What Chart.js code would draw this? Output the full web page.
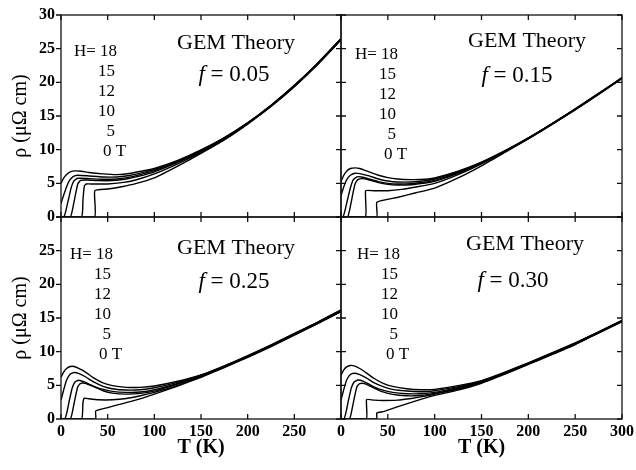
<!DOCTYPE html>
<html><head><meta charset="utf-8">
<script src="https://cdn.jsdelivr.net/npm/chart.js@4.4.1/dist/chart.umd.min.js"></script>
<style>
html,body{margin:0;padding:0;background:#fff;}
body{width:636px;height:470px;position:relative;overflow:hidden;}
canvas{position:absolute;left:0;top:0;}
</style>
</head><body>
<canvas id="c0" width="636" height="470"></canvas>
<canvas id="c1" width="636" height="470"></canvas>
<canvas id="c2" width="636" height="470"></canvas>
<canvas id="c3" width="636" height="470"></canvas>
<script>
// ---- tick labels / categories ----
const xTicks = [0, 50, 100, 150, 200, 250, 300];
const yTicks = [0, 5, 10, 15, 20, 25, 30];
const fieldLabels = ['H= 18', '15', '12', '10', '5', '0 T'];
const fValues = ['0.05', '0.15', '0.25', '0.30'];

// ---- series: [T (K), rho (µΩ cm)] ----
// f = 0.05
const f05_H18 = [[0,5.0],[3,5.8],[6,6.3],[10,6.7],[15,6.85],[22,6.8],[30,6.6],[45,6.4],[60,6.3],[75,6.5],[90,6.9],[100,7.2],[125,8.4],[150,9.95],[175,11.8],[200,14.0],[225,16.6],[250,19.55],[275,22.85],[300,26.5]];
const f05_H15 = [[0,2.0],[3,3.3],[6,4.5],[9,5.4],[13,6.0],[18,6.2],[30,6.1],[45,5.95],[60,5.95],[75,6.2],[90,6.7],[100,7.05],[125,8.3],[150,9.9],[175,11.75],[200,13.97],[225,16.57],[250,19.52],[275,22.82],[300,26.47]];
const f05_H12 = [[0,0],[3,0],[5,0.8],[8,2.6],[11,4.4],[14,5.4],[18,5.75],[30,5.7],[45,5.6],[60,5.65],[75,5.95],[90,6.5],[100,6.9],[125,8.2],[150,9.8],[175,11.7],[200,13.95],[225,16.55],[250,19.5],[275,22.8],[300,26.45]];
const f05_H10 = [[0,0],[10,0],[12,0.9],[15,3.0],[18,4.9],[21,5.45],[28,5.5],[40,5.4],[55,5.4],[70,5.65],[85,6.1],[100,6.7],[125,8.1],[150,9.75],[175,11.65],[200,13.9],[225,16.5],[250,19.45],[275,22.75],[300,26.4]];
const f05_H5  = [[0,0],[22,0],[23.5,2.5],[25,4.6],[27,4.9],[35,4.9],[50,4.9],[65,5.1],[80,5.5],[100,6.4],[125,7.9],[150,9.6],[175,11.55],[200,13.85],[225,16.45],[250,19.4],[275,22.7],[300,26.35]];
const f05_H0  = [[0,0],[36,0],[36.2,3.9],[50,4.15],[65,4.5],[80,4.95],[100,5.8],[125,7.55],[150,9.45],[175,11.45],[200,13.8],[225,16.4],[250,19.35],[275,22.65],[300,26.3]];
// f = 0.15
const f15_H18 = [[0,5.3],[3,6.2],[6,6.8],[10,7.2],[15,7.3],[20,7.2],[30,6.7],[40,6.2],[50,5.85],[60,5.65],[75,5.55],[90,5.6],[100,5.8],[125,6.8],[150,8.15],[175,9.85],[200,11.75],[225,13.85],[250,16.05],[275,18.35],[300,20.7]];
const f15_H15 = [[0,3.2],[3,4.5],[6,5.5],[10,6.2],[15,6.5],[20,6.45],[30,6.1],[40,5.65],[50,5.35],[60,5.2],[75,5.2],[90,5.4],[100,5.65],[125,6.7],[150,8.1],[175,9.8],[200,11.72],[225,13.82],[250,16.02],[275,18.32],[300,20.67]];
const f15_H12 = [[0,0],[2,0],[4,0.8],[7,2.6],[10,4.3],[13,5.5],[17,5.95],[22,5.95],[30,5.65],[40,5.25],[50,5.0],[60,4.9],[75,4.95],[90,5.2],[100,5.45],[125,6.6],[150,8.05],[175,9.77],[200,11.7],[225,13.8],[250,16.0],[275,18.3],[300,20.65]];
const f15_H10 = [[0,0],[7,0],[9,0.9],[12,3.0],[15,4.9],[18,5.55],[23,5.7],[30,5.5],[40,5.1],[50,4.85],[60,4.75],[75,4.8],[90,5.05],[100,5.3],[125,6.5],[150,8.0],[175,9.74],[200,11.68],[225,13.78],[250,15.98],[275,18.28],[300,20.63]];
const f15_H5  = [[0,0],[26,0],[26.3,3.9],[35,3.9],[50,3.9],[65,4.1],[80,4.45],[100,5.0],[125,6.3],[150,7.9],[175,9.7],[200,11.65],[225,13.75],[250,15.95],[275,18.25],[300,20.6]];
const f15_H0  = [[0,0],[38,0],[38.3,2.2],[60,2.9],[80,3.6],[100,4.3],[125,5.8],[150,7.6],[175,9.6],[200,11.6],[225,13.72],[250,15.92],[275,18.22],[300,20.57]];
// f = 0.25
const f25_H18 = [[0,6.2],[3,7.0],[6,7.5],[10,7.8],[14,7.8],[20,7.45],[27,6.9],[35,6.1],[45,5.35],[55,4.95],[70,4.7],[85,4.7],[100,4.9],[125,5.6],[150,6.55],[175,7.9],[200,9.4],[225,11.0],[250,12.7],[275,14.4],[300,16.2]];
const f25_H15 = [[0,2.8],[3,4.4],[6,5.8],[10,6.7],[14,6.9],[20,6.7],[27,6.2],[35,5.5],[45,4.85],[55,4.5],[70,4.3],[85,4.35],[100,4.65],[125,5.45],[150,6.5],[175,7.85],[200,9.35],[225,10.95],[250,12.65],[275,14.35],[300,16.15]];
const f25_H12 = [[0,0],[4,0],[6,0.8],[9,2.8],[12,4.6],[15,5.5],[19,5.75],[25,5.5],[33,5.0],[42,4.5],[55,4.1],[70,3.95],[85,4.0],[100,4.35],[125,5.3],[150,6.4],[175,7.8],[200,9.3],[225,10.9],[250,12.6],[275,14.3],[300,16.1]];
const f25_H10 = [[0,0],[10,0],[12,0.9],[15,3.0],[18,4.8],[21,5.3],[26,5.3],[35,4.8],[45,4.2],[55,3.85],[70,3.7],[85,3.8],[100,4.15],[125,5.2],[150,6.35],[175,7.75],[200,9.25],[225,10.85],[250,12.55],[275,14.25],[300,16.05]];
const f25_H5  = [[0,0],[22,0],[23.5,2.4],[25,3.1],[30,3.0],[40,2.85],[55,2.85],[70,3.05],[85,3.45],[100,3.95],[125,5.0],[150,6.25],[175,7.7],[200,9.2],[225,10.8],[250,12.5],[275,14.2],[300,16.0]];
const f25_H0  = [[0,0],[37,0],[37.2,1.2],[50,1.7],[65,2.25],[80,2.8],[100,3.7],[125,4.9],[150,6.2],[175,7.65],[200,9.15],[225,10.75],[250,12.45],[275,14.15],[300,15.95]];
// f = 0.30
const f30_H18 = [[0,6.5],[3,7.3],[6,7.75],[10,7.95],[14,7.9],[20,7.5],[27,6.85],[35,6.05],[45,5.3],[55,4.85],[70,4.5],[85,4.35],[100,4.4],[125,4.95],[150,5.7],[175,6.95],[200,8.35],[225,9.8],[250,11.3],[275,12.95],[300,14.65]];
const f30_H15 = [[0,2.8],[3,4.4],[6,5.8],[10,6.6],[14,6.8],[20,6.6],[27,6.1],[35,5.4],[45,4.8],[55,4.4],[70,4.15],[85,4.05],[100,4.2],[125,4.8],[150,5.6],[175,6.9],[200,8.3],[225,9.75],[250,11.25],[275,12.92],[300,14.62]];
const f30_H12 = [[0,0],[3,0],[5,0.8],[8,2.8],[11,4.6],[14,5.5],[18,5.8],[24,5.6],[32,5.0],[42,4.4],[55,3.95],[70,3.75],[85,3.75],[100,3.95],[125,4.65],[150,5.5],[175,6.85],[200,8.25],[225,9.7],[250,11.2],[275,12.9],[300,14.6]];
const f30_H10 = [[0,0],[9,0],[11,0.9],[14,3.0],[17,4.8],[20,5.25],[25,5.25],[33,4.75],[43,4.1],[55,3.65],[70,3.45],[85,3.5],[100,3.8],[125,4.55],[150,5.45],[175,6.8],[200,8.2],[225,9.65],[250,11.15],[275,12.85],[300,14.55]];
const f30_H5  = [[0,0],[27,0],[27.3,2.9],[35,2.8],[45,2.75],[60,2.8],[75,3.05],[90,3.4],[100,3.7],[125,4.45],[150,5.4],[175,6.75],[200,8.15],[225,9.6],[250,11.1],[275,12.8],[300,14.5]];
const f30_H0  = [[0,0],[38,0],[38.2,0.9],[45,1.1],[60,1.8],[80,2.7],[100,3.5],[125,4.3],[150,5.3],[175,6.65],[200,8.1],[225,9.55],[250,11.05],[275,12.75],[300,14.45]];

// ---- panel layout (positions only) ----
const panels = [
  {id:'c0', col:0, row:0, f:fValues[0], series:[f05_H18,f05_H15,f05_H12,f05_H10,f05_H5,f05_H0], hx:117, hy:52, gx:236, gy:43, fx:234, fy:75},
  {id:'c1', col:1, row:0, f:fValues[1], series:[f15_H18,f15_H15,f15_H12,f15_H10,f15_H5,f15_H0], hx:398, hy:55, gx:527, gy:41, fx:517, fy:76},
  {id:'c2', col:0, row:1, f:fValues[2], series:[f25_H18,f25_H15,f25_H12,f25_H10,f25_H5,f25_H0], hx:113, hy:255, gx:236, gy:248, fx:234, fy:282},
  {id:'c3', col:1, row:1, f:fValues[3], series:[f30_H18,f30_H15,f30_H12,f30_H10,f30_H5,f30_H0], hx:400, hy:255, gx:525, gy:244, fx:513, fy:281}
];

const SERIF = '"Liberation Serif", "Times New Roman", serif';

function makeChart(p){
  const L = p.col ? 341 : 61, R = p.col ? 622 : 341;
  const T = p.row ? 217 : 15, B = p.row ? 419 : 217;
  const TL = 5;
  const showX = p.row === 1, showY = p.col === 0;
  const frame = {
    id:'frame'+p.id,
    afterDraw(chart){
      const {ctx, chartArea:a, scales:{x, y}} = chart;
      ctx.save();
      ctx.strokeStyle = '#111';
      ctx.lineWidth = 1.3;
      ctx.strokeRect(a.left, a.top, a.right - a.left, a.bottom - a.top);
      ctx.beginPath();
      xTicks.forEach(v => {
        const px = x.getPixelForValue(v);
        ctx.moveTo(px, a.bottom); ctx.lineTo(px, a.bottom - TL);
        ctx.moveTo(px, a.top); ctx.lineTo(px, a.top + TL);
      });
      yTicks.forEach(v => {
        const py = y.getPixelForValue(v);
        ctx.moveTo(a.right, py); ctx.lineTo(a.right - TL, py);
        if (p.col === 0) { ctx.moveTo(a.left, py); ctx.lineTo(a.left - TL, py); }
        else { ctx.moveTo(a.left, py); ctx.lineTo(a.left + TL, py); }
      });
      ctx.stroke();
      // annotations
      ctx.fillStyle = '#000';
      ctx.textBaseline = 'middle';
      ctx.font = '22px ' + SERIF;
      ctx.textAlign = 'center';
      ctx.fillText('GEM Theory', p.gx, p.gy);
      // f = value
      ctx.textAlign = 'left';
      ctx.font = 'italic 23px ' + SERIF;
      const w1 = ctx.measureText('f').width;
      ctx.font = '23px ' + SERIF;
      const rest = ' = ' + p.f;
      const w2 = ctx.measureText(rest).width;
      const sx = p.fx - (w1 + w2) / 2;
      ctx.font = 'italic 23px ' + SERIF;
      ctx.fillText('f', sx, p.fy);
      ctx.font = '23px ' + SERIF;
      ctx.fillText(rest, sx + w1, p.fy);
      // field labels
      ctx.font = '17px ' + SERIF;
      fieldLabels.forEach((t, i) => {
        const yy = p.hy + i * 20;
        if (i === 0) { ctx.textAlign = 'right'; ctx.fillText(t, p.hx, yy); }
        else if (i === fieldLabels.length - 1) { ctx.textAlign = 'left'; ctx.fillText(t, p.hx - 14, yy); }
        else { ctx.textAlign = 'right'; ctx.fillText(t, p.hx - 2, yy); }
      });
      ctx.restore();
    }
  };
  return new Chart(document.getElementById(p.id), {
    type:'line',
    data:{datasets: p.series.map(s => ({
      data: s.map(([tx, ry]) => ({x: tx, y: ry})),
      borderColor:'#000', borderWidth:1.4, pointRadius:0, tension:0.15, fill:false
    }))},
    options:{
      responsive:false, animation:false, devicePixelRatio:1, events:[],
      layout:{autoPadding:false, padding:{left: showY ? 0 : L, right: 636 - R, top: T, bottom: showX ? 0 : 470 - B}},
      plugins:{legend:{display:false}, tooltip:{enabled:false}, title:{display:false}},
      scales:{
        x:{
          type:'linear', min:0, max:300, display: showX,
          grid:{display:false, drawTicks:false}, border:{display:false},
          afterBuildTicks: s => { s.ticks = xTicks.map(v => ({value:v})); },
          afterFit: s => { if (showX) { s.height = 470 - B; s.paddingLeft = 0; s.paddingRight = 0; } },
          ticks:{padding:3, color:'#000', maxRotation:0, autoSkip:false,
            font:{family:SERIF, size:16, weight:'bold'},
            callback: v => (p.col === 0 && v === 300) ? '' : String(v)},
          title:{display:true, text:'T (K)', color:'#000',
            font:{family:SERIF, size:20, weight:'bold'}, padding:{top:0, bottom:10}}
        },
        y:{
          type:'linear', min:0, max:30, display: showY,
          grid:{display:false, drawTicks:false}, border:{display:false},
          afterBuildTicks: s => { s.ticks = yTicks.map(v => ({value:v})); },
          afterFit: s => { if (showY) { s.width = L; s.paddingTop = 0; s.paddingBottom = 0; } },
          ticks:{padding:6, color:'#000', autoSkip:false,
            font:{family:SERIF, size:16, weight:'bold'},
            callback: v => (p.row === 1 && v === 30) ? '' : String(v)},
          title:{display:true, text:'ρ (μΩ cm)', color:'#000',
            font:{family:SERIF, size:20}, padding:{top:9, bottom:0}}
        }
      }
    },
    plugins:[frame]
  });
}
panels.forEach(makeChart);
</script>
</body></html>
